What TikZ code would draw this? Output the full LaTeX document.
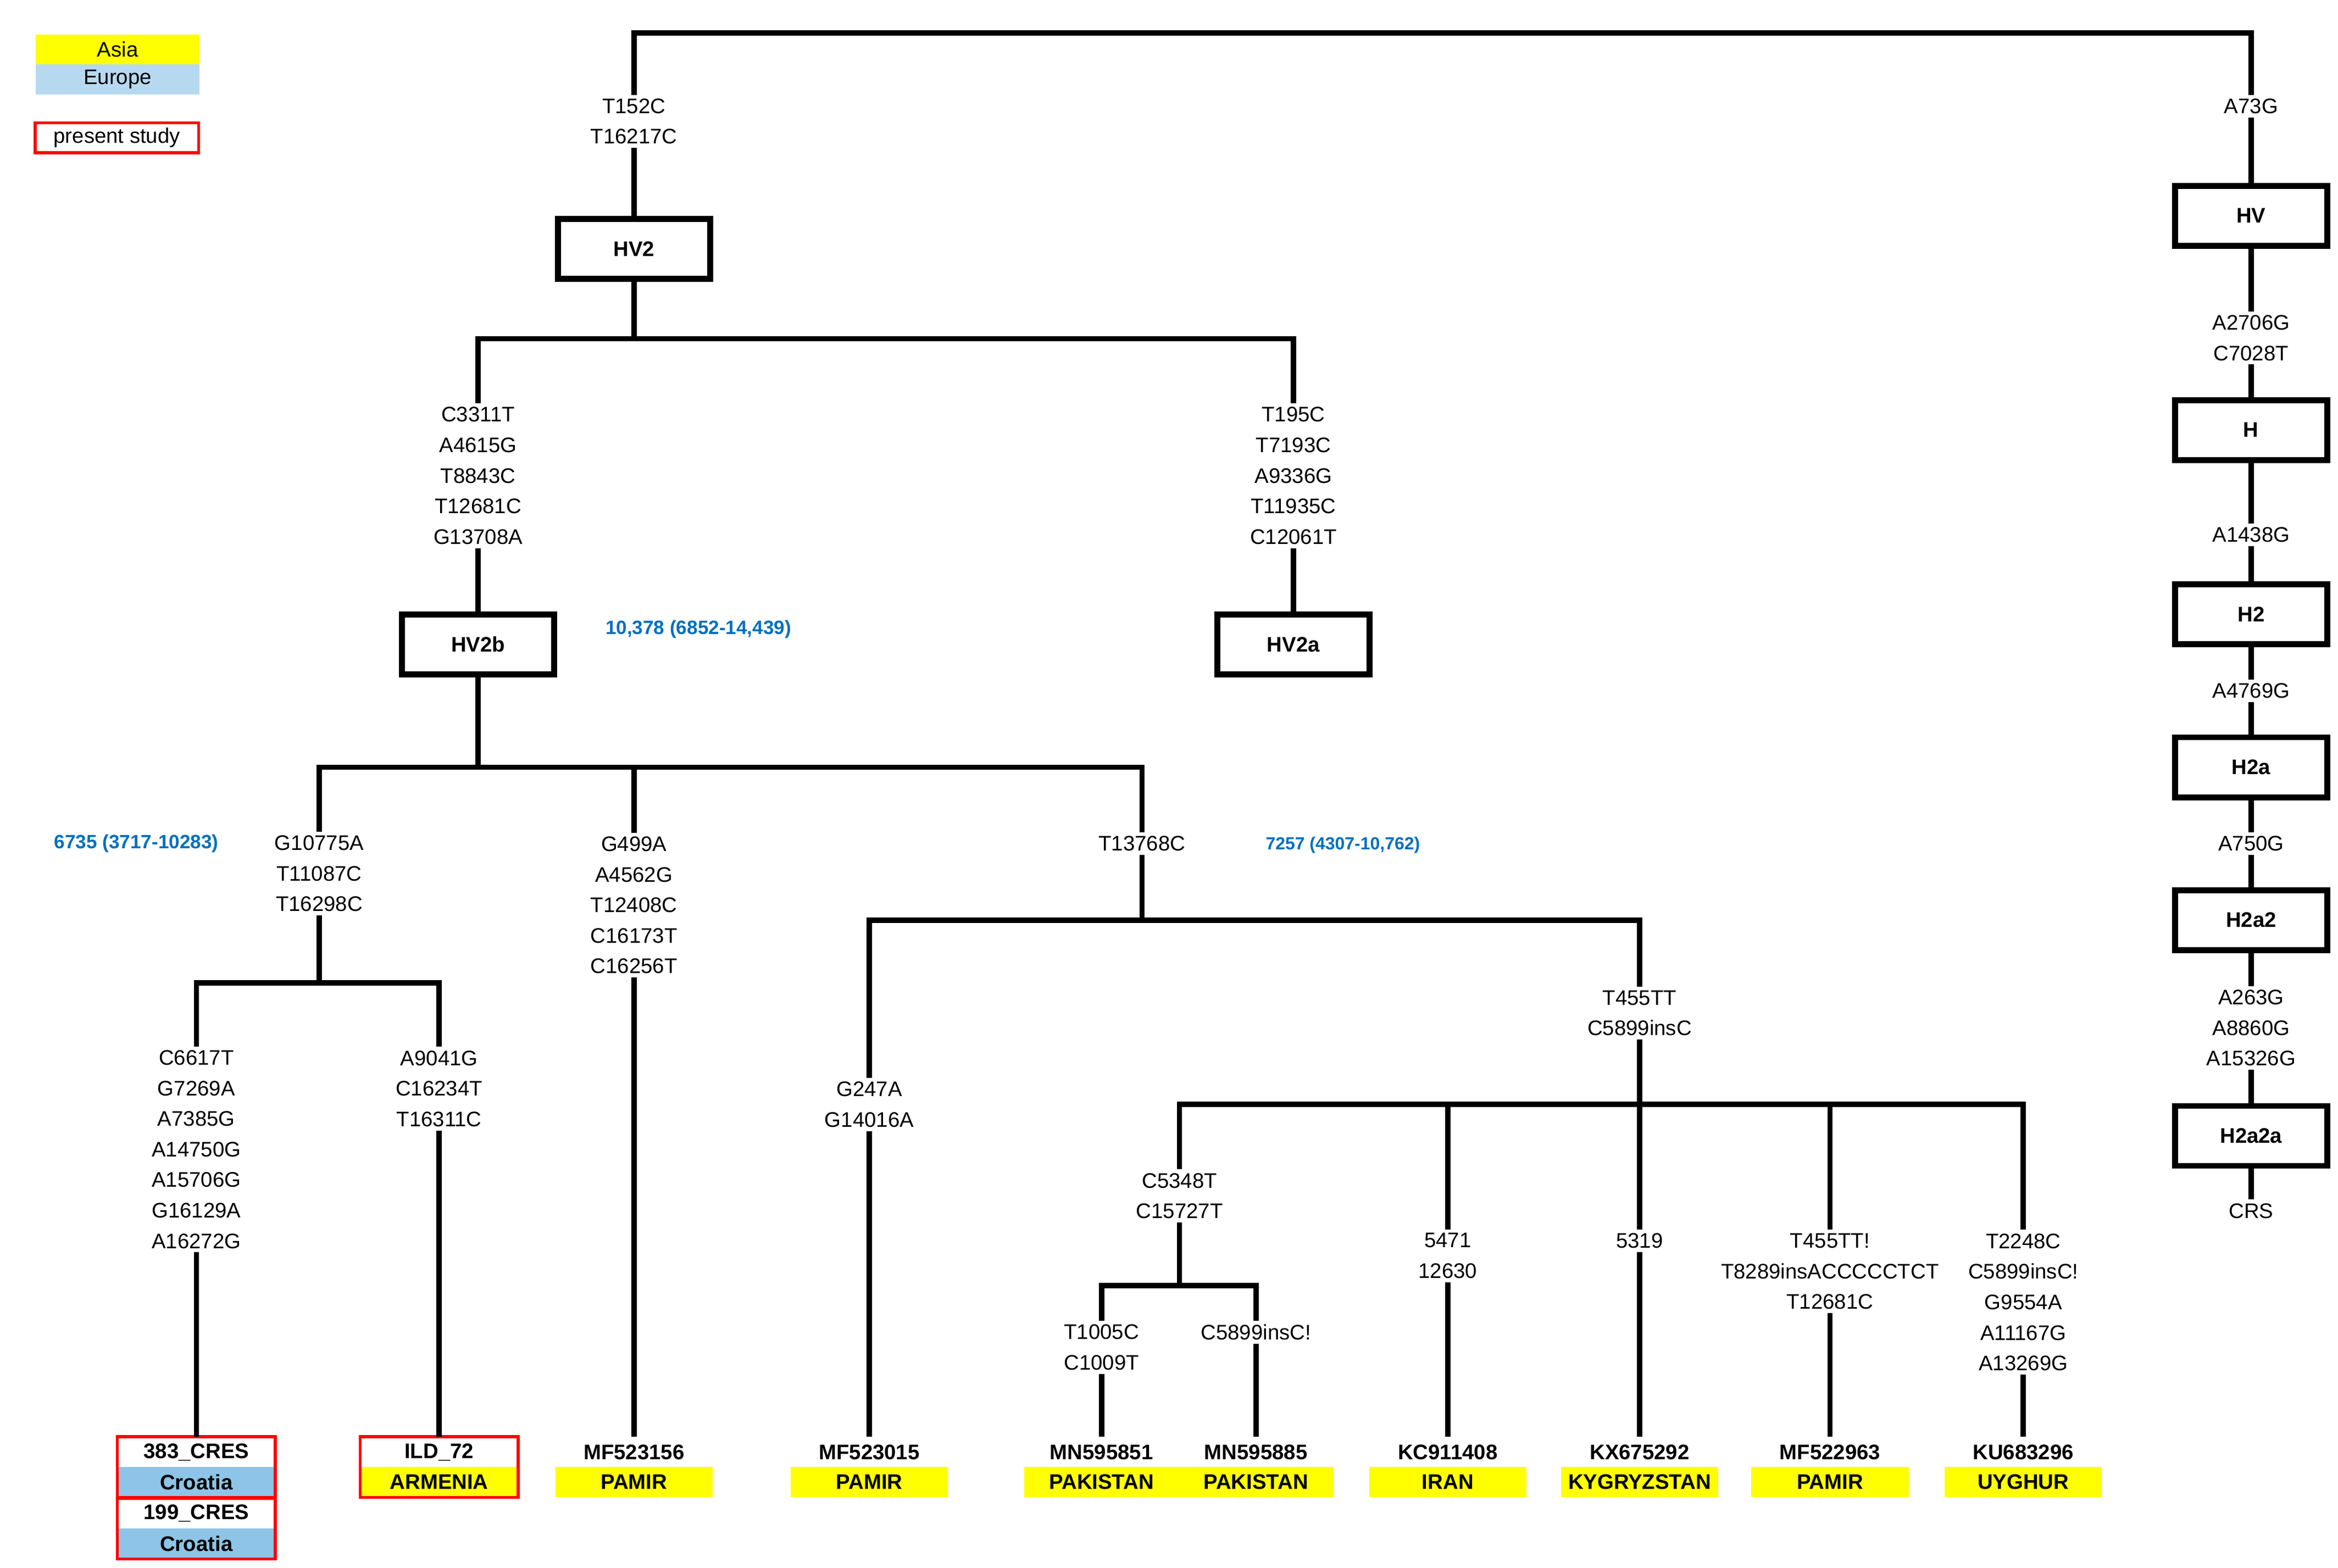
\documentclass[tikz,border=0pt]{standalone}
\usepackage{fontspec}
\setmainfont{Liberation Sans}
\definecolor{asia}{RGB}{255,255,0}
\definecolor{europe}{RGB}{183,217,240}
\definecolor{croatia}{RGB}{141,196,232}
\definecolor{agecol}{RGB}{0,112,192}
\tikzset{
  tree/.style={line width=3pt},
  hap/.style={draw, line width=3.4pt, minimum width=3.05cm, minimum height=1.2cm, inner sep=0pt, font=\fontsize{12}{14}\selectfont\bfseries},
  mut/.style={align=center, inner sep=2pt, font=\fontsize{12}{17.4}\selectfont},
  age/.style={text=agecol, font=\fontsize{11}{13}\selectfont\bfseries},
  sid/.style={minimum width=3.15cm, minimum height=0.6cm, inner sep=0pt, font=\fontsize{12}{14}\selectfont\bfseries},
  reg/.style={sid, fill=#1},
  study/.style={draw=red, line width=1.7pt}
}
\begin{document}
\begin{tikzpicture}[x=0.03cm,y=-0.03cm]
        \useasboundingbox (0,0) rectangle (1560,1046);
        
        %Legend
        \node[reg=asia, minimum width=3.27cm, font=\fontsize{12}{14}\selectfont] (lasia) at (78.5,33) {Asia};
        \node[reg=europe, minimum width=3.27cm, font=\fontsize{12}{14}\selectfont] (leurope) at (78.5,53) {Europe};
        \node[sid, study, draw=red, minimum width=3.27cm, font=\fontsize{12}{14}\selectfont] (lstudy) at (78,92) {present study};
        
        %Right branch (HV to CRS)
        \coordinate (root) at (963,22);
        \node[mut] (m73) at (1502,71) {A73G};
        \node[hap] (hv) at (1502,144) {HV};
        \node[mut] (m2706) at (1502,225.5) {A2706G\\C7028T};
        \node[hap] (h) at (1502,287) {H};
        \node[mut] (m1438) at (1502,357) {A1438G};
        \node[hap] (h2) at (1502,410) {H2};
        \node[mut] (m4769) at (1502,461) {A4769G};
        \node[hap] (h2a) at (1502,512) {H2a};
        \node[mut] (m750) at (1502,563) {A750G};
        \node[hap] (h2a2) at (1502,614) {H2a2};
        \node[mut] (m263) at (1502,686) {A263G\\A8860G\\A15326G};
        \node[hap] (h2a2a) at (1502,758) {H2a2a};
        \node[mut] (crs) at (1502,808) {CRS};
        
        %HV2
        \node[mut] (m152) at (423,81) {T152C\\T16217C};
        \node[hap] (hv2) at (423,166) {HV2};
        \coordinate (jhv2) at (423,226);
        \node[mut] (m3311) at (319,317.5) {C3311T\\A4615G\\T8843C\\T12681C\\G13708A};
        \node[hap] (hv2b) at (319,430) {HV2b};
        \node[mut] (m195) at (863,317.5) {T195C\\T7193C\\A9336G\\T11935C\\C12061T};
        \node[hap] (hv2a) at (863,430) {HV2a};
        \node[age] (age1) at (466,420) {10,378 (6852-14,439)};
        
        %HV2b
        \coordinate (jhv2b) at (319,512);
        \node[mut] (m10775) at (213,583) {G10775A\\T11087C\\T16298C};
        \coordinate (j10775) at (213,656);
        \node[mut] (m6617) at (131,767) {C6617T\\G7269A\\A7385G\\A14750G\\A15706G\\G16129A\\A16272G};
        \node[mut] (m9041) at (293,726.5) {A9041G\\C16234T\\T16311C};
        \node[mut] (m499) at (423,604) {G499A\\A4562G\\T12408C\\C16173T\\C16256T};
        \node[mut] (m13768) at (762,563) {T13768C};
        \coordinate (j13768) at (762,614);
        \node[mut] (m247) at (580,737) {G247A\\G14016A};
        \node[mut] (m455) at (1094,676) {T455TT\\C5899insC};
        \coordinate (j455) at (1094,737);
        \node[mut] (m5348) at (787,798) {C5348T\\C15727T};
        \coordinate (j5348) at (787,858);
        \node[mut] (m1005) at (735,899) {T1005C\\C1009T};
        \node[mut] (m5899) at (838,889) {C5899insC!};
        \node[mut] (m5471) at (966,838) {5471\\12630};
        \node[mut] (m5319) at (1094,828) {5319};
        \node[mut] (m455b) at (1221,848.5) {T455TT!\\T8289insACCCCCTCT\\T12681C};
        \node[mut] (m2248) at (1350,869) {T2248C\\C5899insC!\\G9554A\\A11167G\\A13269G};
        \node[age] (age2) at (91,563) {6735 (3717-10283)};
        \node[age, font=\fontsize{10}{12}\selectfont\bfseries] (age3) at (896,564) {7257 (4307-10,762)};
        
        %Sequences
        \node[sid] (s383) at (131,969) {383\_CRES};
        \node[reg=croatia] (c383) at (131,989) {Croatia};
        \node[sid] (s199) at (131,1010) {199\_CRES};
        \node[reg=croatia] (c199) at (131,1030) {Croatia};
        \node[sid] (sild) at (293,969) {ILD\_72};
        \node[reg=asia] (cild) at (293,989) {ARMENIA};
        \node[sid] (s156) at (423,969) {MF523156};
        \node[reg=asia] (c156) at (423,989) {PAMIR};
        \node[sid] (s015) at (580,969) {MF523015};
        \node[reg=asia] (c015) at (580,989) {PAMIR};
        \node[sid, minimum width=3.1cm] (s851) at (735,969) {MN595851};
        \node[reg=asia, minimum width=3.1cm] (c851) at (735,989) {PAKISTAN};
        \node[sid, minimum width=3.1cm] (s885) at (838,969) {MN595885};
        \node[reg=asia, minimum width=3.1cm] (c885) at (838,989) {PAKISTAN};
        \node[sid] (s408) at (966,969) {KC911408};
        \node[reg=asia] (c408) at (966,989) {IRAN};
        \node[sid] (s292) at (1094,969) {KX675292};
        \node[reg=asia] (c292) at (1094,989) {KYGRYZSTAN};
        \node[sid] (s963) at (1221,969) {MF522963};
        \node[reg=asia] (c963) at (1221,989) {PAMIR};
        \node[sid] (s296) at (1350,969) {KU683296};
        \node[reg=asia] (c296) at (1350,989) {UYGHUR};
        
        %present study frames
        \draw[study] (s383.north west) rectangle (c383.south east);
        \draw[study] (s199.north west) rectangle (c199.south east);
        \draw[study] (sild.north west) rectangle (cild.south east);
        
        %Edges
        \draw[tree] (m152) |- (root) -| (m73);
        \draw[tree] (m73) -- (hv) -- (m2706) -- (h) -- (m1438) -- (h2) -- (m4769) -- (h2a) -- (m750) -- (h2a2) -- (m263) -- (h2a2a) -- (crs);
        \draw[tree] (m152) -- (hv2) -- (jhv2);
        \draw[tree] (m3311) |- (jhv2) -| (m195);
        \draw[tree] (m3311) -- (hv2b);
        \draw[tree] (m195) -- (hv2a);
        \draw[tree] (hv2b) -- (jhv2b);
        \draw[tree] (m10775) |- (jhv2b) -| (m13768);
        \draw[tree] (m499) -- (m499 |- jhv2b);
        \draw[tree] (m10775) -- (j10775);
        \draw[tree] (m6617) |- (j10775) -| (m9041);
        \draw[tree] (m6617) -- (s383);
        \draw[tree] (m9041) -- (sild);
        \draw[tree] (m499) -- (s156);
        \draw[tree] (m13768) -- (j13768);
        \draw[tree] (m247) |- (j13768) -| (m455);
        \draw[tree] (m247) -- (s015);
        \draw[tree] (m455) -- (m5319);
        \draw[tree] (m5348) |- (j455) -| (m2248);
        \draw[tree] (m5471) -- (m5471 |- j455);
        \draw[tree] (m455b) -- (m455b |- j455);
        \draw[tree] (m5348) -- (j5348);
        \draw[tree] (m1005) |- (j5348) -| (m5899);
        \draw[tree] (m1005) -- (s851);
        \draw[tree] (m5899) -- (s885);
        \draw[tree] (m5471) -- (s408);
        \draw[tree] (m5319) -- (s292);
        \draw[tree] (m455b) -- (s963);
        \draw[tree] (m2248) -- (s296);
        
\end{tikzpicture}
\end{document}
